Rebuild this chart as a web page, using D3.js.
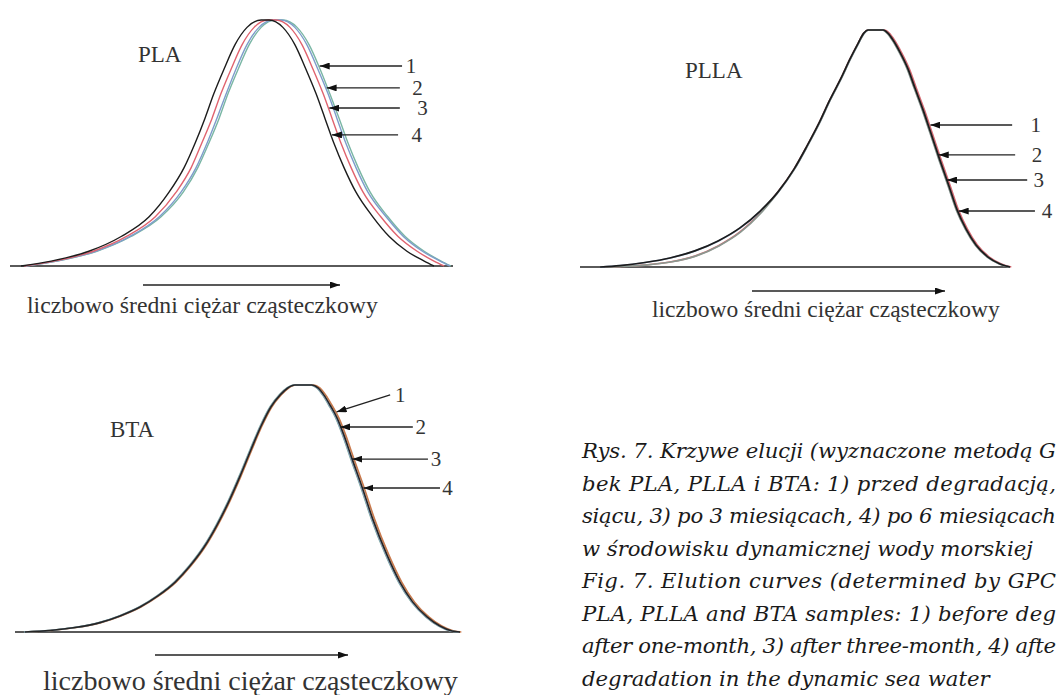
<!DOCTYPE html>
<html>
<head>
<meta charset="utf-8">
<script src="https://cdn.jsdelivr.net/npm/d3@7"></script>
<style>
  body { margin: 0; background: #fff; }
  svg { display: block; }
</style>
</head>
<body>
<svg id="chart" width="1060" height="695"></svg>
<script>
// elution curves, x = elution position (a.u., 0-100), y = signal (% of max)
// series 1) before degradation, 2) 1 month, 3) 3 months, 4) 6 months
const seriesNames = ["1", "2", "3", "4"];
const axisLabel = "liczbowo średni ciężar cząsteczkowy";

const plaLevels = [0, 2, 6, 12, 20, 30, 40, 50, 60, 70, 80, 90, 97, 100, 100, 97, 90, 80, 70, 60, 50, 40, 30, 20, 12, 6, 2, 0];
const plaPos1 = [3.6, 10.6, 19.6, 27.3, 34.1, 39.1, 42.4, 44.9, 47.2, 49.2, 51.5, 54.0, 56.7, 59.8, 61.6, 64.8, 67.5, 70.0, 72.2, 74.3, 76.3, 78.6, 81.3, 85.3, 89.2, 93.5, 97.3, 99.5];
const plaPos2 = [3.5, 10.5, 19.4, 27.1, 33.7, 38.6, 42.0, 44.5, 46.7, 48.8, 51.0, 53.5, 56.2, 59.4, 61.2, 64.3, 67.0, 69.5, 71.8, 73.8, 75.8, 78.1, 80.8, 84.9, 88.8, 93.1, 97.1, 99.3];
const plaPos3 = [3.2, 10.0, 18.8, 26.3, 32.8, 37.5, 40.9, 43.3, 45.6, 47.6, 49.9, 52.4, 55.1, 58.2, 60.0, 63.2, 65.9, 68.4, 70.7, 72.7, 74.7, 77.0, 79.7, 83.7, 87.6, 91.9, 95.7, 98.0];
const plaPos4 = [2.5, 9.3, 17.8, 25.1, 31.4, 35.9, 39.3, 41.8, 44.0, 46.0, 48.3, 50.8, 53.5, 56.7, 58.5, 61.6, 64.3, 66.8, 69.1, 71.1, 73.1, 75.4, 78.1, 81.9, 85.6, 89.6, 93.5, 95.7];

const pllaUpper = [0, 0.6, 1.9, 3.8, 6.8, 11.0, 16.5, 23.6, 31.6, 41.4, 51.1, 60.8, 70.5, 79.7, 87.8, 94.5, 98.7, 100, 100, 98.7, 95.8, 90.7, 83.5, 75.5, 66.2, 56.5, 45.1, 34.2, 24.1, 16.0, 9.3, 4.2, 1.3, 0];
const pllaLower = [0, 0.2, 0.8, 2.1, 4.6, 8.9, 14.8, 22.8, 31.6, 41.4, 51.1, 60.8, 70.5, 79.7, 87.8, 94.5, 98.7, 100, 100, 98.7, 95.8, 90.7, 83.5, 75.5, 66.2, 56.5, 45.1, 34.2, 24.1, 16.0, 9.3, 4.2, 1.3, 0];
const pllaPos1 = [5.8, 9.3, 15.1, 20.9, 26.7, 32.1, 37.2, 41.9, 46.0, 49.8, 52.8, 55.6, 58.1, 60.7, 62.8, 64.7, 66.0, 67.0, 70.8, 71.9, 73.1, 74.7, 76.6, 78.2, 80.1, 81.9, 84.0, 86.1, 88.0, 90.1, 92.4, 95.2, 98.0, 100.3];
const pllaPos2 = [4.8, 9.4, 15.2, 21.0, 26.8, 32.2, 37.3, 42.0, 46.1, 49.9, 52.9, 55.7, 58.2, 60.8, 62.9, 64.8, 66.1, 67.1, 70.4, 71.5, 72.7, 74.3, 76.2, 77.8, 79.7, 81.5, 83.6, 85.7, 87.6, 89.7, 92.0, 94.8, 97.6, 99.9];
const pllaPos3 = [6.0, 9.5, 15.3, 21.1, 26.9, 32.3, 37.4, 42.1, 46.1, 49.9, 52.9, 55.7, 58.2, 60.8, 62.9, 64.8, 66.1, 67.1, 70.3, 71.4, 72.6, 74.2, 76.1, 77.7, 79.6, 81.4, 83.5, 85.6, 87.5, 89.6, 91.9, 94.7, 97.5, 99.8];
const pllaPos4 = [4.7, 9.3, 15.1, 20.9, 26.7, 32.1, 37.2, 41.9, 46.0, 49.8, 52.8, 55.6, 58.1, 60.7, 62.8, 64.7, 66.0, 67.0, 70.5, 71.6, 72.8, 74.4, 76.3, 77.9, 79.8, 81.6, 83.7, 85.8, 87.7, 89.8, 92.1, 94.9, 97.7, 100];

const btaLevels = [0, 0.6, 1.8, 3.8, 6.5, 10.1, 14.6, 20.2, 26.7, 34.4, 43.3, 53.0, 63.2, 73.7, 83.4, 91.1, 96.0, 98.8, 100, 100, 98.8, 96.0, 91.9, 86.6, 79.8, 70.4, 58.7, 45.7, 31.2, 20.2, 12.1, 6.1, 2.4, 0.4, 0];
const btaPos1 = [2.4, 8.1, 13.7, 19.3, 23.8, 28.3, 32.3, 36.2, 39.5, 42.7, 45.6, 48.3, 50.8, 53.2, 55.5, 57.7, 59.8, 61.5, 63.1, 67.1, 68.5, 69.8, 71.2, 72.8, 74.3, 76.1, 78.4, 80.8, 84.0, 86.9, 89.8, 93.0, 95.9, 98.6, 100.3];
const btaPos2 = [2.0, 7.7, 13.3, 18.9, 23.4, 27.9, 31.9, 35.8, 39.1, 42.3, 45.2, 47.9, 50.4, 52.8, 55.1, 57.3, 59.4, 61.1, 62.7, 66.4, 67.8, 69.1, 70.5, 72.1, 73.6, 75.4, 77.7, 80.1, 83.3, 86.2, 89.1, 92.3, 95.2, 97.9, 99.7];
const btaPos3 = [2.1, 7.8, 13.4, 19.0, 23.5, 28.0, 32.0, 35.9, 39.2, 42.4, 45.3, 48.0, 50.5, 52.9, 55.2, 57.4, 59.5, 61.2, 62.8, 66.5, 67.9, 69.2, 70.6, 72.2, 73.7, 75.5, 77.8, 80.2, 83.4, 86.3, 89.2, 92.4, 95.3, 98.0, 99.8];
const btaPos4 = [2.2, 7.9, 13.5, 19.1, 23.6, 28.1, 32.1, 36.0, 39.3, 42.5, 45.4, 48.1, 50.6, 53.0, 55.3, 57.5, 59.6, 61.3, 62.9, 66.7, 68.1, 69.4, 70.8, 72.4, 73.9, 75.7, 78.0, 80.4, 83.6, 86.5, 89.4, 92.6, 95.5, 98.2, 100];

const captionLines = [
  "Rys. 7. Krzywe elucji (wyznaczone metodą G",
  "bek PLA, PLLA i BTA: 1) przed degradacją,",
  "siącu, 3) po 3 miesiącach, 4) po 6 miesiącach",
  "w środowisku dynamicznej wody morskiej",
  "Fig. 7. Elution curves (determined by GPC",
  "PLA, PLLA and BTA samples: 1) before deg",
  "after one-month, 3) after three-month, 4) afte",
  "degradation in the dynamic sea water"
];

// panel layout (pixels); arrow heights / label places in data units
const panels = [
  {
    name: "PLA",
    curves: [d3.zip(plaPos1, plaLevels), d3.zip(plaPos2, plaLevels), d3.zip(plaPos3, plaLevels), d3.zip(plaPos4, plaLevels)],
    colors: ["#79b6a4", "#7e9ccb", "#e0636f", "#1c1c1c"], width: 1.4,
    left: 10, right: 453, base: 266, top: 20,
    title: [138, 62], dir: [143, 340, 285], label: [27, 313, 351],
    arrows: [
      { level: 81.3, tail: [88.5, 81.3], text: 90.5 },
      { level: 72.4, tail: [88.0, 72.4], text: 92.0 },
      { level: 64.2, tail: [88.0, 64.2], text: 93.1 },
      { level: 53.3, tail: [87.6, 53.3], text: 91.8 }
    ]
  },
  {
    name: "PLLA",
    curves: [d3.zip(pllaPos1, pllaLower), d3.zip(pllaPos2, pllaUpper), d3.zip(pllaPos3, pllaLower), d3.zip(pllaPos4, pllaUpper)],
    colors: ["#d46a72", "#8ea5c6", "#8a9890", "#1c1c1c"], width: 1.7,
    left: 580, right: 1010, base: 267, top: 30,
    title: [685, 78], dir: [752, 945, 291], label: [652, 317, 348],
    arrows: [
      { level: 59.9, tail: [100.5, 59.9], text: 106.0 },
      { level: 47.3, tail: [101.2, 47.3], text: 106.3 },
      { level: 36.7, tail: [104.0, 36.7], text: 106.7 },
      { level: 23.6, tail: [105.8, 23.6], text: 108.6 }
    ]
  },
  {
    name: "BTA",
    curves: [d3.zip(btaPos1, btaLevels), d3.zip(btaPos2, btaLevels), d3.zip(btaPos3, btaLevels), d3.zip(btaPos4, btaLevels)],
    colors: ["#c8794c", "#7fb09a", "#8da2c4", "#262626"], width: 1.6,
    left: 15, right: 460, base: 632, top: 385,
    title: [110, 437], dir: [155, 348, 655], label: [43, 690, 415],
    arrows: [
      { level: 89.1, tail: [84.3, 96.0], text: 86.6 },
      { level: 83.0, tail: [89.4, 83.0], text: 91.2 },
      { level: 70.0, tail: [92.8, 70.0], text: 94.6 },
      { level: 58.3, tail: [95.5, 58.3], text: 97.2 }
    ]
  }
];

const svg = d3.select("#chart");

svg.append("defs").append("marker")
    .attr("id", "head")
    .attr("viewBox", "0 0 10 7")
    .attr("refX", 10)
    .attr("refY", 3.5)
    .attr("markerUnits", "userSpaceOnUse")
    .attr("markerWidth", 10)
    .attr("markerHeight", 7)
    .attr("orient", "auto")
    .append("path")
    .attr("d", "M0,0L10,3.5L0,7Z")
    .attr("fill", "#111");

function fitWidth(sel, target) {
    const w = sel.node().getComputedTextLength();
    const fs = parseFloat(sel.attr("font-size"));
    sel.attr("font-size", fs * target / w);
}

// x where a curve passes a given level on its falling (right) side
function rightCross(pts, level) {
    let peak = 0;
    pts.forEach(function(p, i) { if (p[1] >= pts[peak][1]) peak = i; });
    for (let i = peak; i < pts.length - 1; i++) {
        const a = pts[i], b = pts[i + 1];
        if (a[1] >= level && b[1] <= level) {
            return a[0] + (b[0] - a[0]) * (a[1] - level) / (a[1] - b[1]);
        }
    }
    return pts[pts.length - 1][0];
}

panels.forEach(function(p) {
    const x = d3.scaleLinear().domain([0, 100]).range([p.left, p.right]);
    const y = d3.scaleLinear().domain([0, 100]).range([p.base, p.top]);
    const g = svg.append("g");

    g.append("line")
        .attr("x1", p.left).attr("x2", p.right)
        .attr("y1", p.base).attr("y2", p.base)
        .attr("stroke", "#5a5a5a")
        .attr("stroke-width", 2.2);

    const line = d3.line()
        .x(function(d) { return x(d[0]); })
        .y(function(d) { return y(d[1]); })
        .curve(d3.curveMonotoneX);

    g.selectAll("path.curve")
        .data(p.curves)
        .enter().append("path")
        .attr("class", "curve")
        .attr("d", line)
        .attr("fill", "none")
        .attr("stroke", function(d, i) { return p.colors[i]; })
        .attr("stroke-width", p.width)
        .attr("stroke-linejoin", "round");

    g.append("text")
        .attr("x", p.title[0])
        .attr("y", p.title[1])
        .attr("font-family", "Liberation Serif, serif")
        .attr("font-size", 23)
        .attr("fill", "#333")
        .text(p.name);

    // numbered arrows, each one ends on its own curve
    const ann = g.selectAll("g.ann")
        .data(p.arrows)
        .enter().append("g")
        .attr("class", "ann");

    ann.append("line")
        .attr("x1", function(d) { return x(d.tail[0]); })
        .attr("y1", function(d) { return y(d.tail[1]); })
        .attr("x2", function(d, i) { return x(rightCross(p.curves[i], d.level)) + 1; })
        .attr("y2", function(d) { return y(d.level); })
        .attr("stroke", "#222")
        .attr("stroke-width", 1.4)
        .attr("marker-end", "url(#head)");

    ann.append("text")
        .attr("x", function(d) { return x(d.text); })
        .attr("y", function(d) { return y(d.tail[1]); })
        .attr("dy", "0.35em")
        .attr("text-anchor", "middle")
        .attr("font-family", "Liberation Serif, serif")
        .attr("font-size", 21)
        .attr("fill", "#333")
        .text(function(d, i) { return seriesNames[i]; });

    // direction of increasing molecular weight
    g.append("line")
        .attr("x1", p.dir[0]).attr("x2", p.dir[1])
        .attr("y1", p.dir[2]).attr("y2", p.dir[2])
        .attr("stroke", "#222")
        .attr("stroke-width", 1.5)
        .attr("marker-end", "url(#head)");

    const lab = g.append("text")
        .attr("x", p.label[0])
        .attr("y", p.label[1])
        .attr("font-family", "Liberation Serif, serif")
        .attr("font-size", 23)
        .attr("fill", "#333")
        .text(axisLabel);
    fitWidth(lab, p.label[2]);
});

// caption, justified lines run to the right edge
const cap = svg.append("g")
    .attr("font-family", "DejaVu Serif, serif")
    .attr("font-style", "italic")
    .attr("fill", "#1a1a1a");

const capText = cap.selectAll("text")
    .data(captionLines)
    .enter().append("text")
    .attr("x", 582)
    .attr("y", function(d, i) { return 458 + i * 32.5; })
    .attr("font-size", 20)
    .text(function(d) { return d; });

const w4 = capText.filter(function(d, i) { return i === 3; }).node().getComputedTextLength();
capText.attr("font-size", 20 * 451 / w4);
capText.filter(function(d, i) { return i !== 3 && i !== 7; })
    .attr("textLength", 474)
    .attr("lengthAdjust", "spacing");
</script>
</body>
</html>
